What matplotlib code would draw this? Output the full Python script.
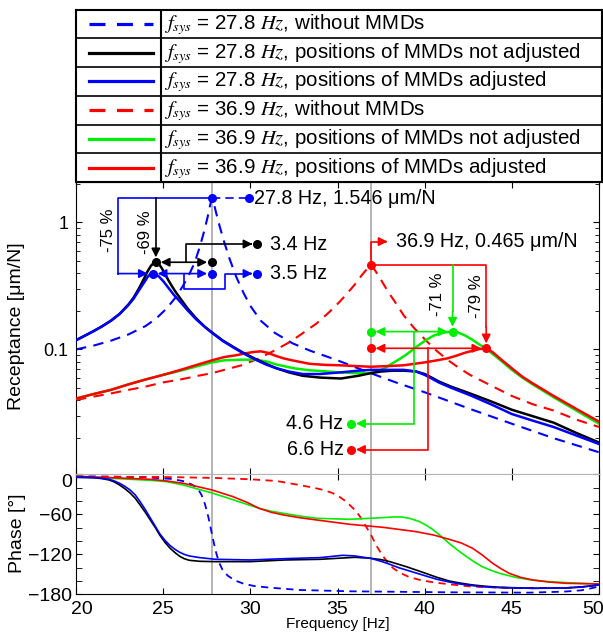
import matplotlib
matplotlib.use('Agg')
import matplotlib.pyplot as plt
import matplotlib.transforms as mtransforms
from matplotlib.ticker import LogLocator, NullFormatter, MultipleLocator

plt.rcParams['font.family'] = ['Liberation Sans', 'DejaVu Sans']
plt.rcParams['mathtext.fontset'] = 'stix'

# ---- receptance [um/N] ----
f_b_dash = [20, 21, 22, 23, 24, 24.6, 25.2, 25.7, 26.1, 26.5, 26.8, 27.1, 27.35, 27.55, 27.7, 27.8, 27.9,
            28.05, 28.25, 28.5, 28.8, 29.2, 29.6, 30.0, 30.6, 31.4, 32.4, 33.4, 34.9, 36.9, 38.5, 40.0,
            42.6, 45.0, 47.4, 50.0]
r_b_dash = [0.100, 0.107, 0.117, 0.131, 0.153, 0.175, 0.21, 0.255, 0.31, 0.39, 0.48, 0.64, 0.85, 1.1,
            1.38, 1.546, 1.42, 1.17, 0.92, 0.70, 0.52, 0.37, 0.28, 0.22, 0.168, 0.135, 0.112, 0.098,
            0.083, 0.065, 0.054, 0.046, 0.034, 0.026, 0.020, 0.0155]

f_k = [20, 20.5, 21, 21.5, 22, 22.5, 23, 23.3, 23.6, 23.9, 24.1, 24.3, 24.45, 24.58, 24.75, 24.9, 25.1,
       25.3, 25.5, 25.7, 26.0, 26.4, 26.9, 27.4, 27.8, 28.4, 29.0, 29.6, 30.3, 30.9, 31.5, 32.2, 33.0,
       34.0, 35.2, 36.2, 36.9, 37.5, 38.2, 38.8, 39.5, 40.0, 40.4, 40.8, 41.5, 42.6, 43.8, 45.0, 46.2,
       47.4, 48.7, 50.0]
r_k = [0.118, 0.128, 0.139, 0.152, 0.168, 0.19, 0.225, 0.255, 0.30, 0.36, 0.41, 0.455, 0.478, 0.485,
       0.47, 0.44, 0.395, 0.35, 0.315, 0.285, 0.25, 0.21, 0.175, 0.15, 0.136, 0.118, 0.105, 0.094, 0.084,
       0.077, 0.071, 0.066, 0.062, 0.060, 0.059, 0.062, 0.065, 0.067, 0.068, 0.068, 0.067, 0.064, 0.060,
       0.056, 0.051, 0.045, 0.039, 0.0335, 0.0298, 0.0265, 0.022, 0.0185]

f_bl = [20, 20.5, 21, 21.5, 22, 22.5, 23, 23.3, 23.6, 23.9, 24.1, 24.25, 24.4, 24.55, 24.75, 25.0, 25.3,
        25.6, 26.0, 26.4, 26.9, 27.4, 27.8, 28.4, 29.0, 29.6, 30.3, 30.9, 31.5, 32.2, 33.0, 34.0, 35.2,
        36.2, 36.9, 37.5, 38.2, 38.8, 39.5, 40.0, 40.4, 40.8, 41.5, 42.6, 43.8, 45.0, 46.2, 47.4, 48.7,
        50.0]
r_bl = [0.118, 0.128, 0.139, 0.152, 0.168, 0.19, 0.223, 0.25, 0.29, 0.335, 0.37, 0.39, 0.395, 0.39,
        0.375, 0.345, 0.305, 0.27, 0.235, 0.203, 0.172, 0.15, 0.135, 0.117, 0.104, 0.093, 0.083, 0.076,
        0.071, 0.067, 0.064, 0.064, 0.066, 0.068, 0.069, 0.069, 0.069, 0.069, 0.067, 0.063, 0.059, 0.055,
        0.050, 0.0436, 0.037, 0.031, 0.0275, 0.0245, 0.021, 0.018]

f_r_dash = [20, 21, 22, 23, 24, 25, 26, 27, 27.8, 28.5, 29.5, 30.5, 31.45, 32.3, 33.0, 33.8, 34.5, 35.1,
            35.6, 36.0, 36.4, 36.7, 36.9, 37.1, 37.4, 37.9, 38.4, 38.8, 39.4, 40.06, 40.7, 41.3, 42.0,
            42.6, 43.8, 45.0, 46.2, 47.4, 48.7, 50.0]
r_r_dash = [0.040, 0.0425, 0.045, 0.048, 0.051, 0.055, 0.058, 0.062, 0.065, 0.069, 0.075, 0.085, 0.099,
            0.115, 0.134, 0.160, 0.195, 0.235, 0.280, 0.325, 0.385, 0.43, 0.465, 0.43, 0.37, 0.285, 0.225,
            0.185, 0.147, 0.118, 0.097, 0.083, 0.071, 0.063, 0.052, 0.043, 0.037, 0.033, 0.028, 0.0245]

f_g = [20, 21, 22, 23, 24, 25, 26, 27, 27.8, 28.5, 29.5, 30.3, 31.0, 31.5, 32.5, 33.4, 35.1, 36.0, 36.9,
       37.3, 37.7, 38.1, 38.5, 38.9, 39.3, 39.7, 40.1, 40.5, 40.9, 41.3, 41.6, 41.9, 42.3, 42.7, 43.1,
       43.5, 43.9, 44.4, 45.0, 45.6, 46.2, 47.4, 48.7, 50.0]
r_g = [0.041, 0.0445, 0.048, 0.053, 0.058, 0.063, 0.068, 0.074, 0.079, 0.082, 0.083, 0.083, 0.080, 0.076,
       0.071, 0.0685, 0.066, 0.065, 0.065, 0.067, 0.071, 0.077, 0.083, 0.090, 0.099, 0.109, 0.119, 0.128,
       0.134, 0.137, 0.138, 0.136, 0.129, 0.120, 0.110, 0.102, 0.092, 0.081, 0.069, 0.060, 0.053, 0.042,
       0.033, 0.026]

f_r = [20, 21, 22, 23, 24, 25, 26, 27, 27.8, 28.5, 29.2, 29.7, 30.2, 30.6, 31.0, 31.45, 31.9, 32.4, 33.4,
       34.3, 35.1, 36.9, 38.0, 38.8, 40.0, 40.7, 41.3, 41.8, 42.3, 42.8, 43.2, 43.53, 43.9, 44.4, 45.0,
       45.6, 46.2, 47.4, 48.7, 50.0]
r_r = [0.041, 0.0445, 0.048, 0.053, 0.058, 0.063, 0.069, 0.076, 0.082, 0.087, 0.090, 0.093, 0.0955,
       0.0965, 0.094, 0.089, 0.085, 0.082, 0.077, 0.0755, 0.075, 0.073, 0.074, 0.075, 0.079, 0.082, 0.085,
       0.089, 0.094, 0.098, 0.101, 0.102, 0.095, 0.083, 0.071, 0.061, 0.054, 0.043, 0.034, 0.027]

# ---- phase [deg] ----
pf_k = [20, 20.5, 21, 21.5, 21.9, 22.2, 22.5, 22.8, 23.1, 23.4, 23.65, 23.95, 24.25, 24.55, 24.8, 25.1,
        25.4, 25.7, 25.95, 26.2, 26.5, 27.1, 28, 30, 32, 34, 36, 36.9, 37.5, 38, 38.5, 39, 39.5, 40, 40.7,
        41.4, 42, 42.75, 43.5, 44.3, 46.2, 48.1, 49, 50]
p_k = [-4.5, -4.7, -5, -6.5, -8.5, -11.5, -16, -21.5, -28, -36, -45, -56, -68, -80, -91, -102, -111, -118,
       -123, -126.5, -129, -130.5, -131, -131, -128.5, -127.5, -124.5, -126, -128, -131, -135, -139,
       -143.5, -148, -154.5, -160, -163, -166, -168, -169.5, -171, -170.5, -169, -166]

pf_bl = [20, 20.5, 21, 21.5, 21.9, 22.2, 22.5, 22.8, 23.1, 23.4, 23.65, 23.95, 24.25, 24.55, 24.8, 25.1,
         25.4, 25.7, 25.95, 26.2, 26.5, 27.1, 28, 30, 32, 34, 35.3, 36, 36.9, 37.5, 38, 38.5, 39, 39.5, 40,
         40.7, 41.4, 42, 42.75, 43.5, 44.3, 46.2, 48.1, 49, 50]
p_bl = [-4.5, -4.7, -5, -6, -7.5, -10, -13.5, -18, -23.5, -31, -40, -52, -65, -78, -89, -99, -107, -113,
        -117, -120, -122.5, -125, -127.5, -128.5, -126.5, -125, -121.5, -122.5, -126, -130.5, -135, -140,
        -144, -148, -152, -157.5, -161.5, -164.5, -167, -169, -170, -171, -170.5, -169, -166]

pf_b_dash = [20, 22, 24, 25.5, 26.2, 26.7, 27.0, 27.2, 27.4, 27.6, 27.8, 28.0, 28.2, 28.4, 28.7, 29.1,
             29.6, 30.2, 30.9, 32.8, 35.7, 41.4, 46, 48, 49, 50]
p_b_dash = [-3, -3.5, -4.5, -7, -10.5, -16, -22, -31, -45, -65, -90, -114, -132, -143, -152, -159, -164,
            -167.5, -169.5, -173.5, -175.5, -177, -177.5, -176, -174, -168.5]

pf_r_dash = [20, 25, 28, 30, 31.5, 32.8, 33.6, 34.2, 34.7, 35.1, 35.5, 35.9, 36.2, 36.45, 36.7, 36.9, 37.1,
             37.3, 37.5, 37.7, 37.95, 38.2, 38.6, 39.1, 39.8, 40.5, 41.4, 42.75, 45, 48, 49, 50]
p_r_dash = [-3.5, -4, -5.5, -7.5, -10, -16, -20, -23.5, -28, -33.5, -41, -51, -60, -70, -81, -90, -100,
            -110, -118.5, -126, -134, -141, -148, -154, -159, -162, -165, -168.5, -170.5, -170.5, -169,
            -166]

pf_g = [20, 22, 24.24, 25.2, 26.15, 27.1, 27.8, 28.4, 29, 29.8, 30.5, 31.2, 31.9, 32.8, 33.8, 35.7, 37.6,
        38.2, 38.7, 39.2, 39.7, 40.1, 40.5, 40.9, 41.4, 41.9, 42.4, 42.85, 43.3, 43.8, 44.3, 45.2, 46.1,
        47.1, 48.5, 50]
p_g = [-3, -6, -9, -11, -16, -23, -28, -33, -38, -45, -51, -55.5, -58.5, -62.5, -66, -67.5, -65, -64, -64,
       -66.5, -71, -76.5, -83.5, -92, -103.5, -114, -123.5, -131.5, -138.5, -144, -148.5, -154.5, -158.5,
       -161, -163, -164.5]

pf_r = [20, 22, 24.24, 25.2, 26.15, 27.8, 29, 29.8, 30.5, 31.2, 31.9, 32.8, 33.8, 35.7, 37.6, 39.5, 40.5,
        41.4, 42.1, 42.75, 43.3, 43.9, 44.4, 44.85, 45.5, 46.2, 47.1, 48.1, 50]
p_r = [-3, -5, -7.5, -10, -13.5, -23.5, -33.5, -42, -51, -57, -61, -65, -68.5, -75, -79.5, -86, -91,
       -97.5, -103, -111, -121, -133.5, -142, -148.5, -154.5, -158.5, -161.5, -163.5, -164.5]

# ---- annotation values ----
f_sys = [27.8, 36.9]
peak_27 = 1.546
peak_36 = 0.465
amp_k, f_k_peak = 0.485, 24.58
amp_bl, f_bl_peak = 0.395, 24.4
amp_g, f_g_peak = 0.138, 41.6
amp_r, f_r_peak = 0.102, 43.53

legend_labels = [r'$f_{sys}$ = 27.8 $Hz$, without MMDs',
                 r'$f_{sys}$ = 27.8 $Hz$, positions of MMDs not adjusted',
                 r'$f_{sys}$ = 27.8 $Hz$, positions of MMDs adjusted',
                 r'$f_{sys}$ = 36.9 $Hz$, without MMDs',
                 r'$f_{sys}$ = 36.9 $Hz$, positions of MMDs not adjusted',
                 r'$f_{sys}$ = 36.9 $Hz$, positions of MMDs adjusted']

BLUE, RED, GREEN, BLACK, GREY = '#0000ff', '#ff0000', '#00ee00', '#000000', '#b4b4b4'
DASH = (0, (5, 3.5))

fig = plt.figure(figsize=(6.03, 6.32), dpi=100)
W, H = 603.0, 632.0
ax1 = fig.add_axes([76 / W, 1 - 474.3 / H, 523 / W, 292.3 / H])
ax2 = fig.add_axes([76 / W, 1 - 594.3 / H, 523 / W, 120 / H])
lax = fig.add_axes([75.5 / W, 1 - 182 / H, 526.5 / W, 172.5 / H])

# ---------- legend table ----------
styles = [(BLUE, DASH), (BLACK, '-'), (BLUE, '-'), (RED, DASH), (GREEN, '-'), (RED, '-')]
lax.set_xlim(0, 526.5)
lax.set_ylim(6, 0)
lax.set_xticks([])
lax.set_yticks([])
for s in lax.spines.values():
    s.set_linewidth(1.5)
for i in range(1, 6):
    lax.axhline(i, color='k', lw=1.2)
lax.axvline(85, color='k', lw=1.5)
for i, ((c, ls), lab) in enumerate(zip(styles, legend_labels)):
    if ls == '-':
        lax.plot([13, 77], [i + 0.5, i + 0.5], color=c, lw=2.3)
    else:
        lax.plot([13, 77], [i + 0.5, i + 0.5], color=c, lw=2.3, linestyle=(0, (5, 3.6)))
    lax.text(88, i + 0.52, lab, fontsize=14.8, va='center', ha='left')

# ---------- receptance ----------
for f in f_sys:
    ax1.axvline(f, color=GREY, lw=1.4, zorder=1)
    ax2.axvline(f, color=GREY, lw=1.4, zorder=1)

ax1.plot(f_b_dash, r_b_dash, color=BLUE, lw=1.5, linestyle=DASH, zorder=2)
ax1.plot(f_r_dash, r_r_dash, color=RED, lw=1.5, linestyle=DASH, zorder=2)
ax1.plot(f_g, r_g, color=GREEN, lw=1.8, zorder=3)
ax1.plot(f_r, r_r, color=RED, lw=1.8, zorder=3)
ax1.plot(f_k, r_k, color=BLACK, lw=1.8, zorder=3)
ax1.plot(f_bl, r_bl, color=BLUE, lw=1.8, zorder=3)

ax1.set_yscale('log')
ax1.set_xlim(20, 50)
ax1.set_ylim(0.0104, 2.076)
ax1.set_yticks([0.1, 1])
ax1.set_yticklabels(['0.1', '1'])
ax1.yaxis.set_minor_locator(LogLocator(base=10, subs=range(2, 10)))
ax1.yaxis.set_minor_formatter(NullFormatter())
ax1.set_xticks([20, 25, 30, 35, 40, 45, 50])
ax1.tick_params(axis='both', which='both', direction='in', top=True, right=True, labelbottom=False)
ax1.tick_params(axis='y', which='major', length=4.5, labelsize=13, pad=5.5)
ax1.tick_params(axis='y', which='minor', length=3)
ax1.tick_params(axis='x', length=4.5)
ax1.spines['bottom'].set_color(GREY)
for t in ax1.xaxis.get_major_ticks():
    t.tick1line.set_color(GREY)
ax1.set_ylabel('Receptance [μm/N]', fontsize=14, va='center')
ax1.yaxis.set_label_coords((17 - 76) / 523, (474.3 - 326) / 292.3)

# ---------- annotations ----------
ms = 5.5
lw_a = 1.2
fs_a = 14.2


def arrow(ax, start, end, c, both=False):
    style = '<|-|>' if both else '-|>'
    ax.annotate('', xy=end, xytext=start,
                arrowprops=dict(arrowstyle=style, color=c, lw=lw_a, mutation_scale=13,
                                shrinkA=3.5 if both else 0, shrinkB=3.5),
                zorder=5)


# 27.8 Hz: peak and reductions
f0 = f_sys[0]
ax1.plot([f0, 29.9], [peak_27, peak_27], color=BLUE, lw=lw_a, linestyle=(0, (5, 3)), zorder=5)
ax1.plot([29.9], [peak_27], 'o', color=BLUE, ms=ms, zorder=6)
ax1.text(30.2, peak_27, '27.8 Hz, 1.546 μm/N', fontsize=fs_a, va='center', ha='left')
ax1.plot([f0, 22.39, 22.39], [peak_27, peak_27, amp_bl], color=BLUE, lw=lw_a, zorder=5)
arrow(ax1, (22.39, amp_bl), (f_bl_peak, amp_bl), BLUE)
ax1.text(21.85, 0.87, '-75 %', rotation=90, fontsize=12, va='center', ha='center')
ax1.plot([f_k_peak, f_k_peak], [peak_27, 0.6], color=BLACK, lw=lw_a, zorder=5)
arrow(ax1, (f_k_peak, 0.6), (f_k_peak, amp_k), BLACK)
ax1.text(24.0, 0.83, '-69 %', rotation=90, fontsize=12, va='center', ha='center')

arrow(ax1, (f_k_peak, amp_k), (f0, amp_k), BLACK, both=True)
ax1.plot([26.3, 26.3, 30.0], [amp_k, 0.675, 0.675], color=BLACK, lw=lw_a, zorder=5)
arrow(ax1, (30.0, 0.675), (30.4, 0.675), BLACK)
ax1.plot([f_k_peak, f0, 30.4], [amp_k, amp_k, 0.675], 'o', color=BLACK, ms=ms, zorder=6)
ax1.text(31.1, 0.675, '3.4 Hz', fontsize=fs_a, va='center', ha='left')

arrow(ax1, (f_bl_peak, amp_bl), (f0, amp_bl), BLUE, both=True)
ax1.plot([26.2, 26.2, 28.53, 28.53, 30.0], [amp_bl, 0.296, 0.296, amp_bl, amp_bl], color=BLUE, lw=lw_a,
         zorder=5)
arrow(ax1, (30.0, amp_bl), (30.4, amp_bl), BLUE)
ax1.plot([f0, f_bl_peak, f0, 30.4], [peak_27, amp_bl, amp_bl, amp_bl], 'o', color=BLUE, ms=ms, zorder=6)
ax1.text(31.1, amp_bl, '3.5 Hz', fontsize=fs_a, va='center', ha='left')

# 36.9 Hz: peak and reductions
f1 = f_sys[1]
ax1.plot([f1, f1, 37.7], [peak_36, 0.705, 0.705], color=RED, lw=lw_a, zorder=5)
arrow(ax1, (37.7, 0.705), (38.15, 0.705), RED)
ax1.text(38.35, 0.705, '36.9 Hz, 0.465 μm/N', fontsize=fs_a, va='center', ha='left')
ax1.plot([f1, f_r_peak, f_r_peak], [peak_36, peak_36, 0.15], color=RED, lw=lw_a, zorder=5)
arrow(ax1, (f_r_peak, 0.15), (f_r_peak, amp_r), RED)
ax1.text(43.0, 0.26, '-79 %', rotation=90, fontsize=12, va='center', ha='center')
ax1.plot([f_g_peak, f_g_peak], [peak_36, 0.2], color=GREEN, lw=lw_a, zorder=5)
arrow(ax1, (f_g_peak, 0.2), (f_g_peak, amp_g), GREEN)
ax1.text(40.73, 0.273, '-71 %', rotation=90, fontsize=12, va='center', ha='center')

arrow(ax1, (f_g_peak, amp_g), (f1, amp_g), GREEN, both=True)
ax1.plot([39.39, 39.39, 36.3], [amp_g, 0.0261, 0.0261], color=GREEN, lw=lw_a, zorder=5)
arrow(ax1, (36.3, 0.0261), (35.78, 0.0261), GREEN)
ax1.plot([f_g_peak, f1, 35.78], [amp_g, amp_g, 0.0261], 'o', color=GREEN, ms=ms, zorder=6)
ax1.text(35.35, 0.0261, '4.6 Hz', fontsize=fs_a, va='center', ha='right')

arrow(ax1, (f_r_peak, amp_r), (f1, amp_r), RED, both=True)
ax1.plot([40.2, 40.2, 36.3], [amp_r, 0.0163, 0.0163], color=RED, lw=lw_a, zorder=5)
arrow(ax1, (36.3, 0.0163), (35.78, 0.0163), RED)
ax1.plot([f1, f_r_peak, f1, 35.78], [peak_36, amp_r, amp_r, 0.0163], 'o', color=RED, ms=ms, zorder=6)
ax1.text(35.35, 0.0163, '6.6 Hz', fontsize=fs_a, va='center', ha='right')

# ---------- phase ----------
ax2.plot(pf_b_dash, p_b_dash, color=BLUE, lw=1.3, linestyle=(0, (4, 3)), zorder=2)
ax2.plot(pf_r_dash, p_r_dash, color=RED, lw=1.3, linestyle=(0, (4, 3)), zorder=2)
ax2.plot(pf_g, p_g, color=GREEN, lw=1.2, zorder=3)
ax2.plot(pf_r, p_r, color=RED, lw=1.2, zorder=3)
ax2.plot(pf_k, p_k, color=BLACK, lw=1.2, zorder=3)
ax2.plot(pf_bl, p_bl, color=BLUE, lw=1.2, zorder=3)

ax2.set_xlim(20, 50)
ax2.set_ylim(-180, 0)
ax2.set_xticks([20, 25, 30, 35, 40, 45, 50])
ax2.set_yticks([-180, -120, -60, 0])
ax2.yaxis.set_minor_locator(MultipleLocator(20))
ax2.tick_params(axis='both', which='both', direction='in', top=True, right=True, length=4)
ax2.tick_params(axis='both', which='major', labelsize=14)
ax2.tick_params(axis='y', pad=3)
ax2.tick_params(axis='x', pad=4.5)
ax2.spines['top'].set_color(GREY)
for t in ax2.xaxis.get_major_ticks():
    t.tick2line.set_color(GREY)
ax2.set_xlabel('Frequency [Hz]', fontsize=11, va='center')
ax2.xaxis.set_label_coords(0.501, (594.3 - 624) / 120)
ax2.set_ylabel('Phase [°]', fontsize=14, va='center')
ax2.yaxis.set_label_coords((17 - 76) / 523, 0.51)

# edge tick labels nudged inwards as in the original
xl = ax2.get_xticklabels()
shift_r = mtransforms.ScaledTranslation(0.06, 0, fig.dpi_scale_trans)
shift_l = mtransforms.ScaledTranslation(-0.06, 0, fig.dpi_scale_trans)
xl[0].set_transform(xl[0].get_transform() + shift_r)
xl[-1].set_transform(xl[-1].get_transform() + shift_l)
yl = ax2.get_yticklabels()
yl[-1].set_va('top')

fig.savefig('out.png', dpi=100)
